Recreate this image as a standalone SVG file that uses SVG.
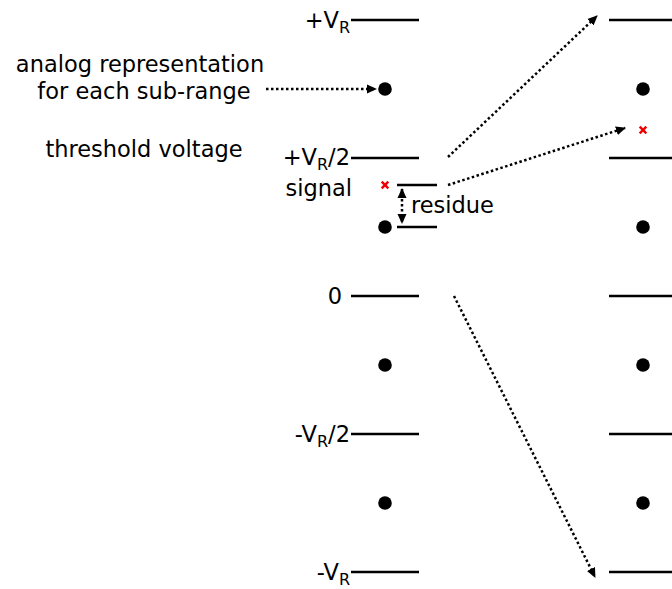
<svg xmlns="http://www.w3.org/2000/svg" width="672" height="589" viewBox="0 0 672 589">
<defs>
<marker id="ah" markerWidth="10" markerHeight="10" refX="9" refY="5" orient="auto" markerUnits="userSpaceOnUse" viewBox="0 0 10 10">
<path d="M0,0.5 L10,5 L0,9.5 Z" fill="#000"/>
</marker>
<marker id="ahs" markerWidth="10" markerHeight="10" refX="9" refY="5" orient="auto-start-reverse" markerUnits="userSpaceOnUse" viewBox="0 0 10 10">
<path d="M0,0.5 L10,5 L0,9.5 Z" fill="#000"/>
</marker>
</defs>
<style>
text{font-family:"DejaVu Sans","Verdana",sans-serif;font-size:22.5px;fill:#000}
.sub{font-size:16px}
.lv{stroke:#000;stroke-width:2.5;fill:none}
.dot{fill:#000}
.x{stroke:#e00;stroke-width:2.4}
.dl{stroke:#000;stroke-width:2.5;stroke-dasharray:2.5 2.5;fill:none}
</style>
<rect width="672" height="589" fill="#fff"/>
<g id="left-levels">
<line class="lv" x1="351" y1="20" x2="419" y2="20"/>
<line class="lv" x1="351" y1="158" x2="419" y2="158"/>
<line class="lv" x1="351" y1="296" x2="419" y2="296"/>
<line class="lv" x1="351" y1="434" x2="419" y2="434"/>
<line class="lv" x1="351" y1="572" x2="419" y2="572"/>
<circle class="dot" cx="385" cy="89" r="6.8"/>
<circle class="dot" cx="385" cy="227" r="6.8"/>
<circle class="dot" cx="385" cy="365" r="6.8"/>
<circle class="dot" cx="385" cy="503" r="6.8"/>
<line class="lv" x1="397" y1="185" x2="437" y2="185"/>
<line class="lv" x1="397" y1="227" x2="437" y2="227"/>
<g transform="translate(385,185)"><line class="x" x1="-3.3" y1="-3.3" x2="3.3" y2="3.3"/><line class="x" x1="-3.3" y1="3.3" x2="3.3" y2="-3.3"/></g>
</g>
<g id="right-levels">
<line class="lv" x1="609" y1="20" x2="672" y2="20"/>
<line class="lv" x1="609" y1="158" x2="672" y2="158"/>
<line class="lv" x1="609" y1="296" x2="672" y2="296"/>
<line class="lv" x1="609" y1="434" x2="672" y2="434"/>
<line class="lv" x1="609" y1="572" x2="672" y2="572"/>
<circle class="dot" cx="643" cy="89" r="6.8"/>
<circle class="dot" cx="643" cy="227" r="6.8"/>
<circle class="dot" cx="643" cy="365" r="6.8"/>
<circle class="dot" cx="643" cy="503" r="6.8"/>
<g transform="translate(643,130)"><line class="x" x1="-3.3" y1="-3.3" x2="3.3" y2="3.3"/><line class="x" x1="-3.3" y1="3.3" x2="3.3" y2="-3.3"/></g>
</g>
<g id="labels">
<text x="350" y="28" text-anchor="end">+V<tspan class="sub" dy="5">R</tspan></text>
<text x="350" y="165" text-anchor="end">+V<tspan class="sub" dy="5">R</tspan><tspan dy="-5">/2</tspan></text>
<text x="342" y="304" text-anchor="end">0</text>
<text x="350" y="442" text-anchor="end">-V<tspan class="sub" dy="5">R</tspan><tspan dy="-5">/2</tspan></text>
<text x="350" y="580" text-anchor="end">-V<tspan class="sub" dy="5">R</tspan></text>
<text x="140" y="72" text-anchor="middle">analog representation</text>
<text x="144" y="99" text-anchor="middle">for each sub-range</text>
<text x="144" y="157" text-anchor="middle">threshold voltage</text>
<text x="352" y="196" text-anchor="end">signal</text>
<text x="411" y="213">residue</text>
</g>
<g id="connectors">
<line class="dl" x1="266" y1="89" x2="376" y2="89" marker-end="url(#ah)"/>
<line class="dl" x1="402" y1="189" x2="402" y2="223" marker-start="url(#ahs)" marker-end="url(#ah)"/>
<line class="dl" x1="448" y1="157" x2="597" y2="16" marker-end="url(#ah)"/>
<line class="dl" x1="448" y1="185" x2="625" y2="128" marker-end="url(#ah)"/>
<line class="dl" x1="454" y1="296" x2="595" y2="577" marker-end="url(#ah)"/>
</g>
</svg>
